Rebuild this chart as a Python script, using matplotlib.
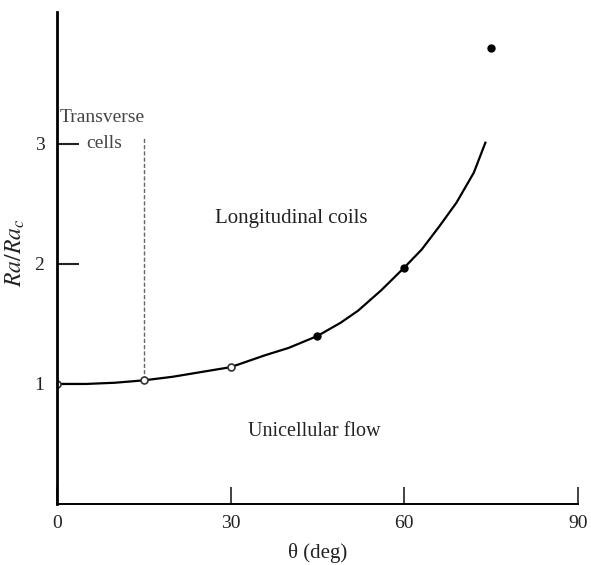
import matplotlib.pyplot as plt

# measured points (deg, Ra/Ra_c)
theta_open = [0, 15, 30]
ratio_open = [1.0, 1.03, 1.14]
theta_filled = [45, 60, 75]
ratio_filled = [1.40, 1.97, 3.80]

# fitted curve
curve_theta = [0, 5, 10, 15, 20, 25, 30, 33, 36, 40, 45, 49, 52, 56, 60, 63, 66, 69, 72, 74]
curve_ratio = [1.0, 1.0, 1.01, 1.03, 1.06, 1.10, 1.14, 1.19, 1.24, 1.30, 1.40, 1.51, 1.61, 1.78,
               1.97, 2.12, 2.31, 2.51, 2.76, 3.01]

# boundary between transverse cells and longitudinal coils
boundary_theta = [15, 15]
boundary_ratio = [1.03, 3.06]

plt.rcParams["font.family"] = ["Liberation Serif", "DejaVu Serif"]
plt.rcParams["mathtext.fontset"] = "stix"

fig = plt.figure(figsize=(5.91, 5.65), dpi=100)
ax = fig.add_axes([0.0964, 0.108, 0.8816, 0.871])

ax.plot(curve_theta, curve_ratio, color="black", lw=1.6)
ax.plot(boundary_theta, boundary_ratio, color="#666666", lw=1.0, ls=(0, (3, 1.5)))
ax.plot(theta_open, ratio_open, "o", ms=5, mfc="white", mec="#333333", mew=1.2)
ax.plot(theta_filled, ratio_filled, "o", ms=5, color="black")

ax.set_xlim(0, 90)
ax.set_ylim(0, 4.1)
ax.set_xticks([0, 30, 60, 90])
ax.set_yticks([1, 2, 3])
ax.tick_params(axis="x", direction="in", length=12, width=1.2, labelsize=14, pad=8, colors="#222222")
ax.tick_params(axis="y", direction="in", length=16, width=1.5, labelsize=14, pad=9, colors="#222222")

for side in ("top", "right"):
    ax.spines[side].set_visible(False)
ax.spines["left"].set_linewidth(2.0)
ax.spines["bottom"].set_linewidth(1.4)

ax.set_xlabel("θ (deg)", fontsize=15, color="#222222", labelpad=8)
ax.set_ylabel(r"$Ra/Ra_c$", fontsize=17, color="#222222")
ax.yaxis.set_label_coords(-0.057, 0.51)

ax.text(7.8, 3.22, "Transverse", ha="center", va="center", fontsize=14, color="#444444")
ax.text(8.2, 3.0, "cells", ha="center", va="center", fontsize=14, color="#444444")
ax.text(40.5, 2.38, "Longitudinal coils", ha="center", va="center", fontsize=15, color="#222222")
ax.text(44.5, 0.6, "Unicellular flow", ha="center", va="center", fontsize=14.5, color="#222222")

fig.savefig("out.png", dpi=100)
